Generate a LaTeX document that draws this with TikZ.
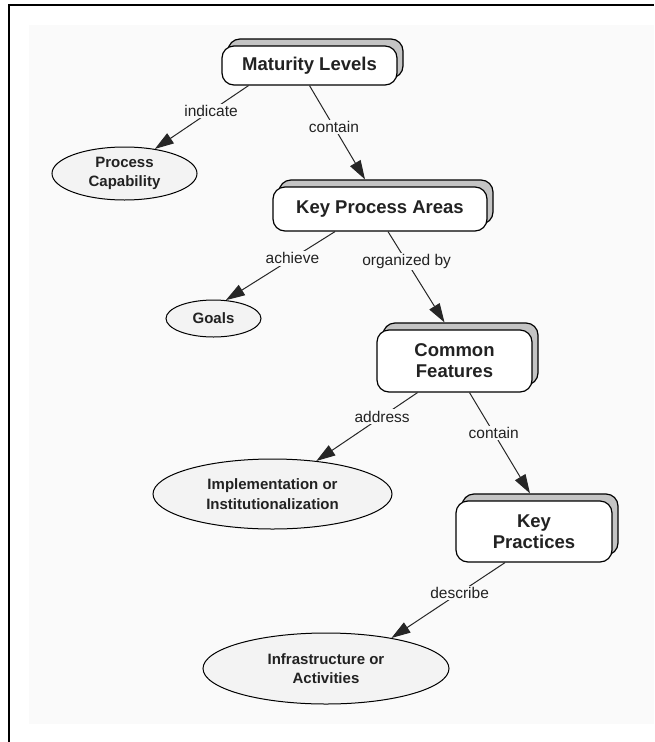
\documentclass[tikz,border=0pt]{standalone}
\usepackage{fontspec}
\setmainfont{Liberation Sans}
\usetikzlibrary{shapes.geometric,shadows,arrows.meta}
\definecolor{ovalgray}{HTML}{F3F3F3}
\definecolor{shadowgray}{HTML}{C4C4C4}
\definecolor{textgray}{HTML}{222222}
\definecolor{canvas}{HTML}{FAFAFA}

\begin{document}
\begin{tikzpicture}[x=1pt,y=-1pt,
					box/.style={draw, rectangle, rounded corners=12pt, fill=white, line width=1.2pt, align=center, inner sep=2pt, text=textgray, font=\bfseries\fontsize{18.5}{21}\selectfont, copy shadow={shadow xshift=6pt, shadow yshift=7pt, fill=shadowgray, draw=black, line width=1.2pt}},
					oval/.style={draw, ellipse, fill=ovalgray, line width=1pt, align=center, inner sep=0pt, text=textgray, font=\bfseries\fontsize{15}{19.5}\selectfont},
					lbl/.style={fill=canvas, inner sep=1.5pt, text=textgray, font=\fontsize{15.5}{18}\selectfont},
					arrow/.style={-{Triangle[length=19pt,width=12pt]}, line width=1pt, draw=black!85}]
					\useasboundingbox (0,0) rectangle (654,742);
					\fill[canvas] (29,25) rectangle (654,724);
					\draw[line width=1.5pt] (9,742) -- (9,5) -- (654,5);
					
					\node[box, minimum width=175pt, minimum height=39pt] (levels) at (309.5,65.5) {Maturity Levels};
					\node[oval, minimum width=145pt, minimum height=53pt] (capability) at (124.5,173.5) {Process\\Capability};
					\node[box, minimum width=214pt, minimum height=44pt] (areas) at (380,209) {Key Process Areas};
					\node[oval, minimum width=95pt, minimum height=37pt] (goals) at (213.5,318.5) {Goals};
					\node[box, minimum width=155pt, minimum height=62pt] (features) at (454.5,361) {Common\\Features};
					\node[oval, minimum width=239pt, minimum height=70pt] (impl) at (272.5,494) {Implementation or\\Institutionalization};
					\node[box, minimum width=156pt, minimum height=61pt] (practices) at (534,531.5) {Key\\Practices};
					\node[oval, minimum width=246pt, minimum height=71pt] (infra) at (326,668.5) {Infrastructure or\\Activities};
					
					\draw[arrow] ([xshift=-61pt]levels.south) -- node[lbl, pos=.4] {indicate} (capability.39);
					\draw[arrow] (levels.south) -- node[lbl, pos=.44] {contain} ([xshift=-15pt,yshift=7pt]areas.north);
					\draw[arrow] ([xshift=-45pt]areas.south) -- node[lbl, pos=.39] {achieve} (goals.56);
					\draw[arrow] ([xshift=8pt]areas.south) -- node[lbl, pos=.33] {organized by} ([xshift=-10pt,yshift=7pt]features.north);
					\draw[arrow] ([xshift=-37pt]features.south) -- node[lbl, pos=.35] {address} (impl.37);
					\draw[arrow] ([xshift=15pt]features.south) -- node[lbl, pos=.4] {contain} ([xshift=-4pt,yshift=7pt]practices.north);
					\draw[arrow] ([xshift=-29pt]practices.south) -- node[lbl, pos=.4] {describe} (infra.25);
				\end{tikzpicture}
\end{document}
